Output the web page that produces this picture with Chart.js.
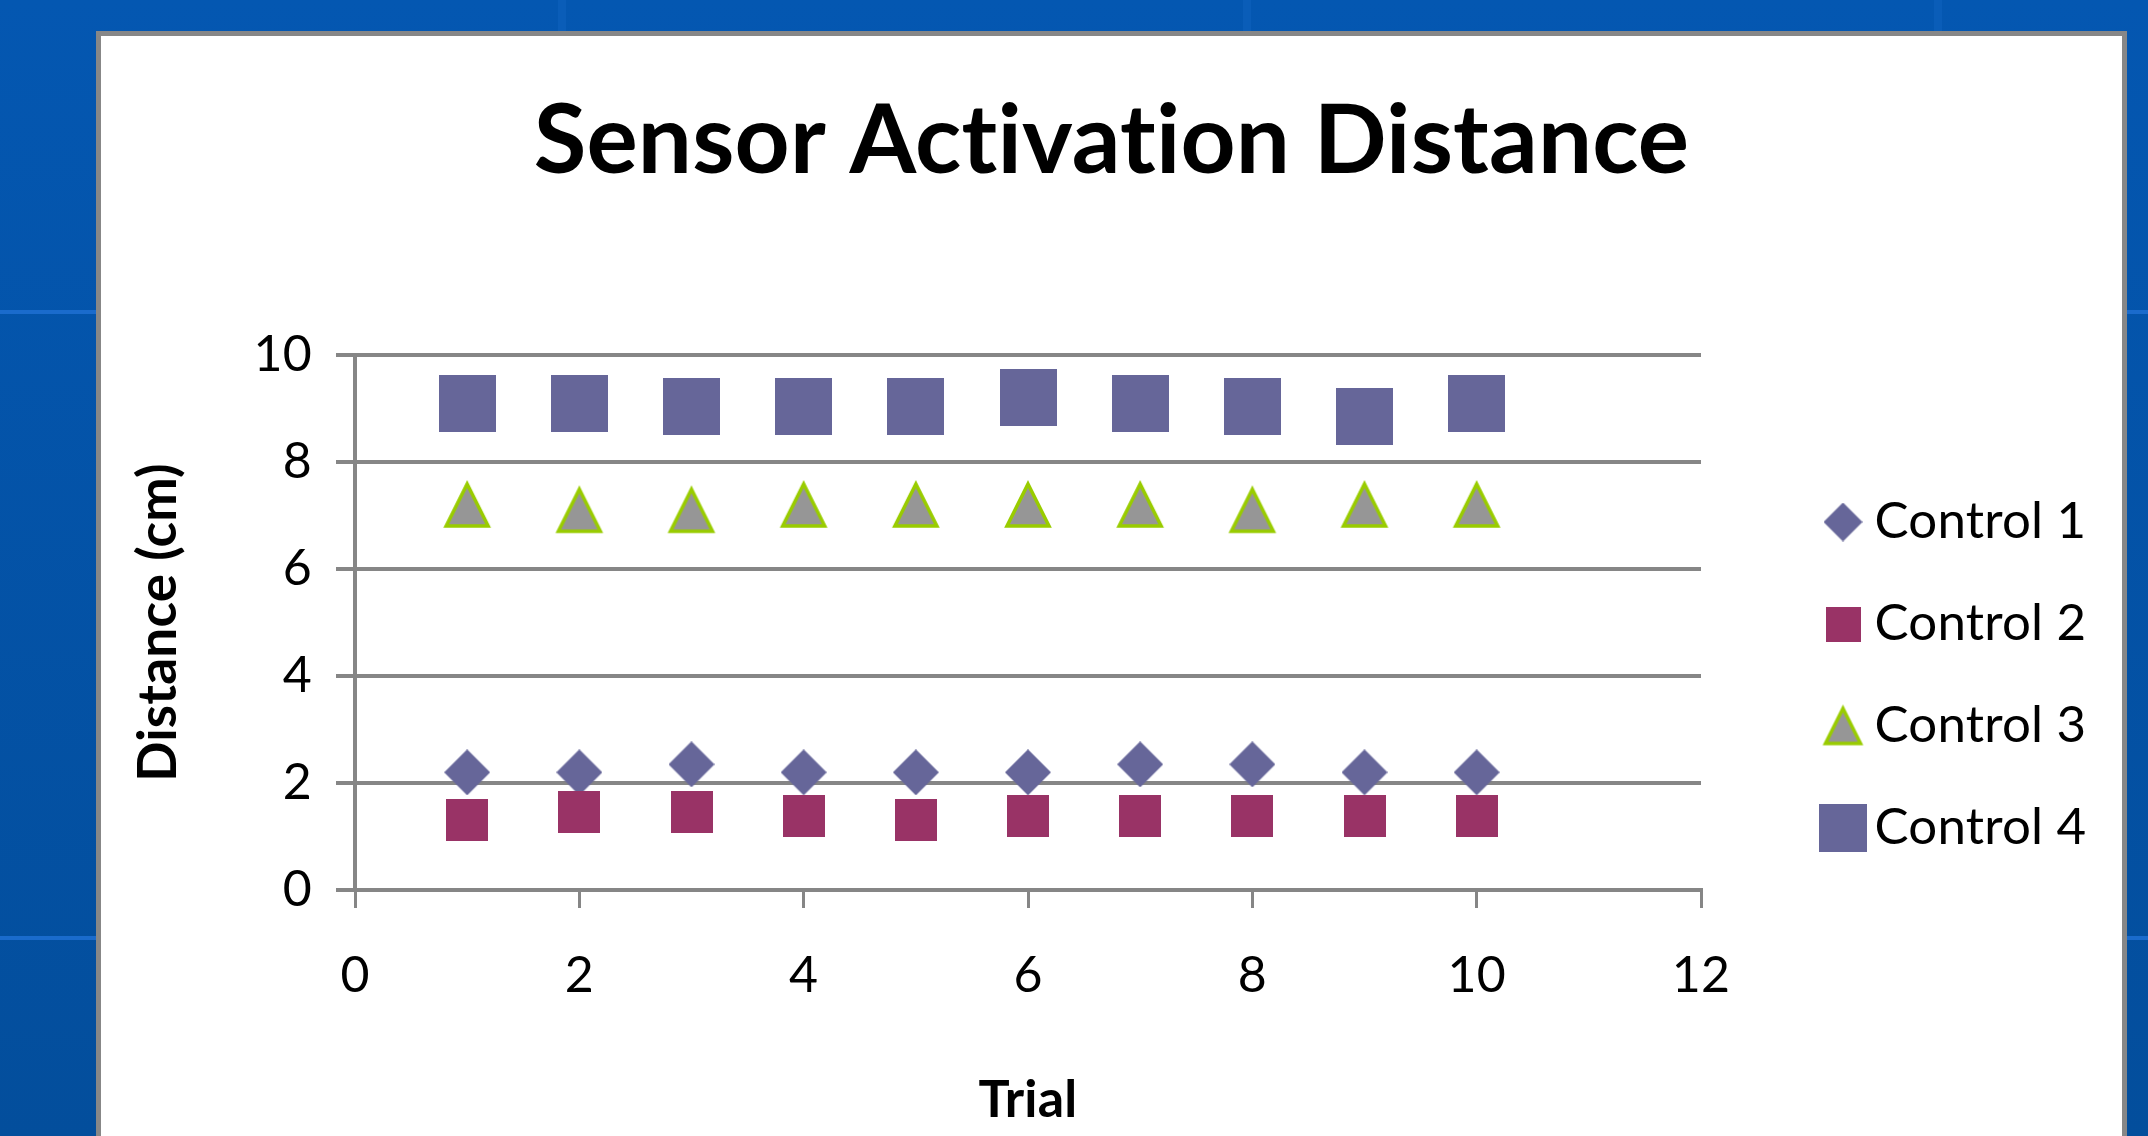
<!DOCTYPE html>
<html>
<head>
<meta charset="utf-8">
<script src="https://cdn.jsdelivr.net/npm/chart.js@4.4.0/dist/chart.umd.min.js"></script>
<style>
    html, body { margin: 0; padding: 0; }
    body {
        width: 2148px;
        height: 1136px;
        overflow: hidden;
        position: relative;
        background: linear-gradient(#0457b1, #034e9c);
    }
    .vline { position: absolute; top: 0; width: 8px; height: 1136px; background: #0a5db8; }
    .hline { position: absolute; left: 0; width: 2148px; height: 4px; background: #1a6bcc; }
    #panel {
        position: absolute;
        left: 96px;
        top: 31px;
        width: 2021px;
        height: 1200px;
        border: 5px solid #878787;
        border-bottom: none;
        background: #ffffff;
    }
    #chart { position: absolute; left: 101px; top: 36px; }
</style>
</head>
<body>
<div class="vline" style="left:558px"></div>
<div class="vline" style="left:1243px"></div>
<div class="vline" style="left:1934px"></div>
<div class="hline" style="top:310px"></div>
<div class="hline" style="top:936px"></div>
<div id="panel"></div>
<canvas id="chart" width="2021" height="1100"></canvas>
<script>
Chart.defaults.font.family = "Lato, 'Open Sans', sans-serif";

// Data
const TRIALS = [1, 2, 3, 4, 5, 6, 7, 8, 9, 10];
const CONTROL_1 = [2.2, 2.2, 2.35, 2.2, 2.2, 2.2, 2.35, 2.35, 2.2, 2.2];
const CONTROL_2 = [1.3, 1.45, 1.45, 1.38, 1.3, 1.38, 1.38, 1.38, 1.38, 1.38];
const CONTROL_3 = [7.2, 7.1, 7.1, 7.2, 7.2, 7.2, 7.2, 7.1, 7.2, 7.2];
const CONTROL_4 = [9.1, 9.1, 9.05, 9.05, 9.05, 9.2, 9.1, 9.05, 8.85, 9.1];
const SERIES_NAMES = ['Control 1', 'Control 2', 'Control 3', 'Control 4'];
const X_TICKS = [0, 2, 4, 6, 8, 10, 12];
const Y_TICKS = [0, 2, 4, 6, 8, 10];

const COLORS = {
    slate: '#666699',
    plum: '#993366',
    gray: '#969696',
    lime: '#99cc00',
    axis: '#868686',
    text: '#000000',
};

// Marker canvases (chart size and legend size)
function makeMarker(shape, size, fill, stroke, strokeWidth) {
    const pad = stroke ? Math.ceil(strokeWidth * 1.5) : 0;
    const c = document.createElement('canvas');
    c.width = c.height = Math.round(size + pad * 2);
    const g = c.getContext('2d');
    const m = c.width / 2;
    const h = size / 2;
    g.beginPath();
    if (shape === 'diamond') {
        g.moveTo(m, m - h);
        g.lineTo(m + h, m);
        g.lineTo(m, m + h);
        g.lineTo(m - h, m);
    } else if (shape === 'triangle') {
        g.moveTo(m, m - h);
        g.lineTo(m + h, m + h);
        g.lineTo(m - h, m + h);
    } else {
        g.rect(m - h, m - h, size, size);
    }
    g.closePath();
    g.fillStyle = fill;
    g.fill();
    if (stroke) {
        g.lineWidth = strokeWidth;
        g.strokeStyle = stroke;
        g.lineJoin = 'miter';
        g.stroke();
    }
    return c;
}

const POINT_MARKERS = [
    makeMarker('diamond', 46, COLORS.slate),
    makeMarker('square', 42, COLORS.plum),
    makeMarker('triangle', 42, COLORS.gray, COLORS.lime, 3.5),
    makeMarker('square', 57, COLORS.slate),
];
const LEGEND_MARKERS = [
    makeMarker('diamond', 39, COLORS.slate),
    makeMarker('square', 35, COLORS.plum),
    makeMarker('triangle', 35, COLORS.gray, COLORS.lime, 3.5),
    makeMarker('square', 48, COLORS.slate),
];

function toPoints(values) {
    return TRIALS.map((t, i) => ({ x: t, y: values[i] }));
}

// Title spans the whole panel, legend sits right of the plot
const boxPlacement = {
    id: 'boxPlacement',
    afterLayout(chart) {
        const title = chart.titleBlock;
        title.left = 0;
        title.right = chart.width;
        title.width = chart.width;

        const legend = chart.legend;
        legend.left = 1685;
        legend.right = legend.left + legend.width;
        legend.top = 409.5;
        legend.bottom = legend.top + legend.height;
    },
    beforeDraw(chart) {
        // a tiny letter spacing keeps "ti" from joining into a ligature
        chart.ctx.letterSpacing = '0.2px';
    }
};

const seriesValues = [CONTROL_1, CONTROL_2, CONTROL_3, CONTROL_4];

new Chart(document.getElementById('chart'), {
    type: 'scatter',
    data: {
        datasets: seriesValues.map((vals, i) => ({
            label: SERIES_NAMES[i],
            data: toPoints(vals),
            pointStyle: POINT_MARKERS[i],
            pointRadius: 20,
            pointHoverRadius: 20,
            showLine: false,
            clip: false,
            order: seriesValues.length - i,
        }))
    },
    options: {
        responsive: false,
        animation: false,
        events: [],
        layout: {
            padding: { top: 0, left: 0, bottom: 0, right: 421 }
        },
        plugins: {
            tooltip: { enabled: false },
            title: {
                display: true,
                text: 'Sensor Activation Distance',
                color: COLORS.text,
                font: { size: 96, weight: 'bold' },
                padding: { top: 48, bottom: 156 }
            },
            legend: {
                display: true,
                position: 'chartArea',
                align: 'start',
                labels: {
                    usePointStyle: true,
                    boxWidth: 12,
                    padding: 51,
                    color: COLORS.text,
                    font: { size: 51 },
                    generateLabels(chart) {
                        const items = Chart.defaults.plugins.legend.labels.generateLabels(chart);
                        items.sort((a, b) => a.datasetIndex - b.datasetIndex);
                        items.forEach(item => {
                            item.pointStyle = LEGEND_MARKERS[item.datasetIndex];
                        });
                        return items;
                    }
                }
            }
        },
        scales: {
            x: {
                type: 'linear',
                min: X_TICKS[0],
                max: X_TICKS[X_TICKS.length - 1],
                afterFit(scale) { scale.height = 246; },
                ticks: {
                    stepSize: X_TICKS[1] - X_TICKS[0],
                    color: COLORS.text,
                    font: { size: 50 },
                    padding: 38,
                    maxRotation: 0
                },
                grid: {
                    drawOnChartArea: false,
                    drawTicks: true,
                    tickLength: 18,
                    color: COLORS.axis,
                    lineWidth: 3
                },
                border: { color: COLORS.axis, width: 4 },
                title: {
                    display: true,
                    text: 'Trial',
                    color: COLORS.text,
                    font: { size: 52, weight: 'bold' },
                    padding: { top: 0, bottom: 5 }
                }
            },
            y: {
                min: Y_TICKS[0],
                max: Y_TICKS[Y_TICKS.length - 1],
                afterFit(scale) { scale.width = 254; },
                ticks: {
                    stepSize: Y_TICKS[1] - Y_TICKS[0],
                    color: COLORS.text,
                    font: { size: 50 },
                    padding: 24
                },
                grid: {
                    color: COLORS.axis,
                    lineWidth: 4,
                    tickLength: 19
                },
                border: { color: COLORS.axis, width: 4 },
                title: {
                    display: true,
                    text: 'Distance (cm)',
                    color: COLORS.text,
                    font: { size: 53, weight: 'bold' },
                    padding: { top: 26, bottom: 0 }
                }
            }
        }
    },
    plugins: [boxPlacement]
});
</script>
</body>
</html>
